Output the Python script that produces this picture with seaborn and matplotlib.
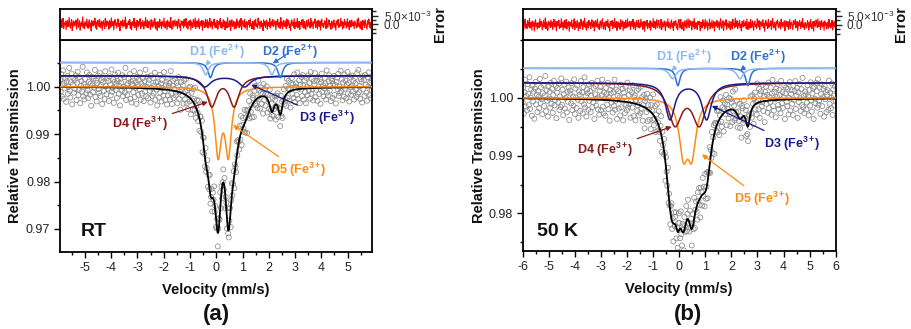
import numpy as np
import matplotlib
matplotlib.use('Agg')
import matplotlib.pyplot as plt
from matplotlib.ticker import MultipleLocator, FixedLocator, FixedFormatter, FormatStrFormatter
import seaborn as sns

sns.set_theme(style='ticks')
plt.rcParams['font.family'] = ['Liberation Sans', 'DejaVu Sans']
plt.rcParams['mathtext.fontset'] = 'custom'
plt.rcParams['mathtext.rm'] = 'Liberation Sans'
plt.rcParams['mathtext.bf'] = 'Liberation Sans:bold'
plt.rcParams['axes.unicode_minus'] = False

# --------------------------
# Residuals (data - fit), one value per channel, in units of res_unit
# --------------------------
res_unit = 1.3e-4
res_a = [12, -8, 21, -15, 3, 27, -19, 6, -2, 14, -24, 9, 18, -11, 0, 31,
         -6, -17, 8, 22, -28, 4, 15, -9, 11, -3, 19, -21, 7, 25, -13, -4,
         16, -26, 2, 10, -7, 33, -15, 5, -20, 13, 1, -10, 24, -5, -18, 9,
         20, -12, 6, -30, 17, 3, -8, 14, -1, 28, -16, 11, -23, 7, 19, -3,
         -9, 23, -14, 4, 12, -27, 8, 16, -6, -19, 26, 2, -11, 15, -2, 10,
         -22, 18, 5, -13, 29, -7, -1, 13, -25, 9, 21, -4, 6, -17, 11, 24,
         -10, 3, -29, 14, 8, -5, 20, -14, 1, 17, -8, 32, -20, 4, -12, 7,
         15, -3, 22, -18, 10, -24, 6, 12, -7, 27, -15, 0, 9, -26, 18, 5,
         -11, 13, -2, 25, -19, 7, -9, 16, 3, -21, 11, -6, 30, -13, 2, 19,
         -16, 8, 14, -4, -23, 21, 1, -12, 17, -8, 5, 26, -18, 10, -1, -27,
         12, 4, -14, 23, -6, 9, -20, 15, 2, -10, 28, -3, -17, 7, 13, -24,
         18, -9, 6, 11, -15, 31, -5, -22, 8, 16, -12, 3, 20, -7, -2, 14,
         -19, 10, 24, -11, 1, -28, 17, 6, -4, 13, -16, 22, -8, 5, 26, -13,
         9, -21, 3, 15, -6, 19, -25, 11, 0, -14, 21, 7, -10, 29, -18, 4,
         16, -2, -12, 25, -20, 8, 12, -7, 18, -26, 6, 14, -3, -15, 23, -9,
         2, 20, -17, 10, -5, 27, -13, 1, 15, -22, 9, -1, 24, -11, 7, -16,
         -7, 18, -22, 5, 13, -3, 26, -14, 9, -19, 2, 21, -10, 15, -25, 6,
         11, -16, 29, -5, -12, 8, 17, -27, 4, 20, -9, 1, 14, -21, 10, -2,
         -18, 24, -6, 12, 3, -15, 19, -8, 27, -23, 7, 16, -4, -11, 22, -17,
         5, 13, -26, 9, -1, 18, -13, 25, -7, 2, -20, 14, 8, -24, 17, -5,
         23, -10, 1, -16, 28, -3, 11, -19, 6, 15, -12, 4, -28, 20, -6, 12,
         -14, 7, 19, -22, 10, 3, -9, 26, -17, 0, 13, -5, 21, -11, -3, 16,
         8, -25, 14, -2, 22, -13, 5, 9, -18, 30, -7, 11, -21, 3, 17, -10,
         -4, 15, -19, 24, -8, 6, 18, -15, 2, -27, 12, 20, -6, 9, -13, 25,
         -20, 4, 10, -9, 27, -16, 1, 14, -23, 7, -1, 19, -12, 22, 5, -18,
         13, -6, -24, 17, 3, -11, 21, -4, 8, -17, 26, -9, 15, -2, -20, 11,
         6, 24, -15, -3, 12, -21, 18, 2, -10, 14, -26, 9, 23, -7, 4, -14,
         -1, 16, 7, -19, 28, -8, -13, 10, 20, -5, 3, -22, 15, 11, -17, 6,
         19, -12, 4, -26, 9, 16, -3, 22, -14, 1, -9, 27, -6, 13, -21, 8,
         -15, 21, -2, 11, -18, 5, 25, -10, 7, -23, 17, 0, -12, 19, 3, -7,
         10, -20, 15, 6, -4, -16, 23, -11, 28, -8, 2, -19, 13, 9, -25, 18,
         -3, 12, -14, 20, 4, -9, -22, 16, 1, 24, -13, 7, -18, 11, -5, 14]

res_b = [-5, 14, -20, 8, 25, -11, 3, -16, 19, 6, -9, 28, -14, 1, 12, -23,
         17, -4, 9, -27, 13, 22, -8, 5, -18, 10, 2, -13, 26, -6, 15, -1,
         -21, 7, 18, -10, 4, 30, -17, 11, -3, -24, 16, 0, 9, -12, 21, -7,
         13, -19, 5, 24, -9, -2, 17, -26, 8, 14, -5, 20, -15, 3, -11, 27,
         -8, 12, -22, 6, 19, -13, 1, 23, -18, 9, -4, 15, -28, 11, 7, -6,
         21, -15, 3, -9, 26, -20, 14, 2, -12, 18, -1, -25, 10, 6, -16, 24,
         -3, 9, -19, 16, -7, 29, -11, 4, -23, 13, 8, -14, 20, -2, 11, -17,
         5, 22, -10, -4, 15, -26, 7, 18, -8, 1, 25, -13, 3, -20, 12, 17,
         -14, 6, 27, -9, -18, 10, 2, -21, 16, 8, -6, 23, -12, 4, -27, 14,
         9, -3, 19, -16, 11, -7, 28, -12, 0, 15, -24, 7, 13, -10, 5, -19,
         22, -8, 1, 17, -25, 12, 6, -15, 20, -4, -11, 26, -7, 10, -2, 16,
         -20, 3, 14, -6, 24, -17, 8, 11, -22, 5, 18, -9, -1, 21, -14, 7,
         -10, 25, -4, 12, -19, 2, 16, -28, 9, 13, -5, 20, -16, 6, 1, -12,
         18, -23, 10, 4, -8, 27, -13, -3, 15, -18, 7, 22, -11, 2, 19, -6,
         -15, 8, 24, -20, 11, -2, -9, 17, 5, -25, 14, 3, -7, 26, -12, 9,
         1, -17, 13, 21, -10, 6, -24, 15, -3, 10, 18, -14, 4, -21, 12, 23,
         8, -13, 23, -6, -19, 11, 4, -25, 17, 2, -10, 21, -15, 7, 26, -4,
         -12, 19, -1, 13, -22, 6, 15, -9, 28, -17, 3, 10, -7, -20, 14, 1,
         16, -8, -26, 12, 5, -14, 22, -3, 9, -18, 24, -11, 2, 17, -23, 6,
         -2, 25, -16, 8, -9, 20, -13, 3, 15, -27, 11, 7, -5, 19, -12, -1,
         13, -21, 4, 27, -7, -15, 10, 18, -24, 5, 12, -3, 22, -19, 8, 2,
         -11, 16, -6, -22, 14, 9, -17, 24, -2, 6, -13, 29, -8, 1, 18, -16,
         7, -4, 20, -12, 3, -26, 15, 11, -9, 21, -5, 0, 13, -18, 25, -10,
         -20, 12, 6, -14, 23, -3, -11, 17, 4, -24, 9, 16, -7, 2, -15, 26,
         3, -9, 18, -21, 10, 14, -6, -1, 22, -13, 7, -28, 12, 19, -4, 8,
         -16, 24, -10, 5, -2, 17, -19, 9, 27, -8, -14, 11, 1, -23, 15, 4,
         21, -7, -12, 13, 6, -18, 25, -5, 10, -11, 3, 19, -26, 8, 16, -3,
         -9, 14, -20, 2, 23, -15, 7, 12, -6, -21, 18, -1, 11, 24, -13, 5,
         15, -25, 9, -4, 20, 1, -16, 13, -8, 28, -11, 4, -19, 10, 6, -14,
         -5, 18, 3, -22, 12, -9, 22, -2, -17, 7, 14, -27, 16, 0, -6, 21,
         10, -12, 26, -8, -3, 15, -20, 6, 19, -10, 2, 13, -24, 17, -1, 9,
         -18, 5, 11, -15, 24, -7, 8, -13, 1, 20, -22, 12, 4, -9, 16, -4]

# --------------------------
# Doublet components
# --------------------------
comp_labels = [r'D1 (Fe$^{\mathbf{2+}}\!$)', r'D2 (Fe$^{\mathbf{2+}}\!$)', r'D3 (Fe$^{\mathbf{3+}}\!$)',
               r'D4 (Fe$^{\mathbf{3+}}\!$)', r'D5 (Fe$^{\mathbf{3+}}\!$)']
comp_colors = ['#8DB8F0', '#2F72D2', '#1B1B8E', '#8B1A1A', '#FF8A14']

# RT: line positions (mm/s), depth, FWHM (mm/s), baseline of each drawn component
lines_a = [(-0.40, 2.12), (-0.22, 2.44), (-0.44, 1.08), (-0.17, 0.68), (0.07, 0.46)]
depth_a = [0.0026, 0.0032, 0.0023, 0.0062, 0.0137]
fwhm_a = [0.24, 0.22, 0.55, 0.45, 0.29]
base_a = [1.0051, 1.0051, 1.0023, 1.0023, 1.0000]
scale_a = 1.52

# 50 K
lines_b = [(-0.25, 2.33), (-0.05, 2.63), (-0.35, 1.05), (-0.16, 0.77), (0.16, 0.48)]
depth_b = [0.0018, 0.0030, 0.0063, 0.0069, 0.0089]
fwhm_b = [0.30, 0.20, 0.43, 0.64, 0.39]
base_b = [1.0051, 1.0051, 1.0026, 1.0026, 1.0000]
scale_b = 1.27

# annotation text / arrow tip positions (velocity, transmission)
ann_text_a = [(0.02, 1.0073), (2.81, 1.0073), (4.22, 0.9934), (-2.91, 0.9921), (3.10, 0.9825)]
ann_tip_a = [(-0.41, 1.0044), (2.15, 1.0049), (1.33, 1.0004), (-0.32, 0.9968), (0.64, 0.9919)]
ann_text_b = [(0.18, 1.0070), (3.02, 1.0070), (4.31, 0.9921), (-2.85, 0.9910), (3.16, 0.9825)]
ann_tip_b = [(-0.29, 1.0046), (2.33, 1.0047), (1.25, 0.9986), (-0.29, 0.9950), (0.87, 0.9902)]


def doublet(v, lines, depth, fwhm):
    h = (fwhm / 2) ** 2
    return sum(depth * h / ((v - c) ** 2 + h) for c in lines)


def total(v, lines, depth, fwhm, scale):
    return 1 - scale * sum(doublet(v, l, d, w) for l, d, w in zip(lines, depth, fwhm))


fig = plt.figure(figsize=(9.12, 3.29), dpi=100)


def draw_panel(left, width, bottom, height, xlim, ylim, elim, res, lines, depth, fwhm, base, scale,
               ann_text, ann_tip, yticks, xticks, tag, letter, letter_x, ylab_x):
    ax = fig.add_axes([left, bottom, width, height])
    ax_e = fig.add_axes([left, 1 - 40 / 329, width, 31 / 329])

    v = np.linspace(xlim[0], xlim[1], len(res))
    r = np.array(res) * res_unit
    y = total(v, lines, depth, fwhm, scale) + r
    vf = np.linspace(xlim[0], xlim[1], 1500)

    # data points
    sns.scatterplot(x=v, y=y, ax=ax, marker='o', s=13, facecolor='none', edgecolor='#8a8a8a',
                    linewidth=0.55, zorder=1)
    # total fit
    sns.lineplot(x=vf, y=total(vf, lines, depth, fwhm, scale), ax=ax, color='black', linewidth=1.3,
                 estimator=None, sort=False, zorder=2)
    # components, D5 at the back
    for i in [4, 3, 2, 1, 0]:
        sns.lineplot(x=vf, y=base[i] - doublet(vf, lines[i], depth[i], fwhm[i]), ax=ax,
                     color=comp_colors[i], linewidth=1.1, estimator=None, sort=False, zorder=3 + (4 - i))
        ax.annotate(comp_labels[i], xy=ann_tip[i], xytext=ann_text[i], ha='center', va='center',
                    color=comp_colors[i], fontsize=9, fontweight='bold',
                    arrowprops=dict(arrowstyle='-|>', color=comp_colors[i], lw=0.9,
                                    mutation_scale=7, shrinkA=1, shrinkB=0))

    ax.set_xlim(xlim)
    ax.set_ylim(ylim)
    ax.xaxis.set_major_locator(FixedLocator(xticks))
    ax.xaxis.set_minor_locator(MultipleLocator(0.5))
    ax.yaxis.set_major_locator(FixedLocator(yticks))
    ax.yaxis.set_minor_locator(MultipleLocator(0.005))
    ax.yaxis.set_major_formatter(FormatStrFormatter('%.2f'))
    ax.xaxis.set_major_formatter(FormatStrFormatter('%d'))
    ax.tick_params(which='major', direction='out', length=4, width=1, labelsize=9, color='black',
                   labelcolor='#222222', pad=3)
    ax.tick_params(which='minor', direction='out', length=2.5, width=1, color='black')
    ax.set_xlabel('Velocity (mm/s)', fontsize=10.5, fontweight='bold', color='#111111')
    ax.xaxis.set_label_coords(0.5, -0.145)
    ax.set_ylabel('Relative Transmission', fontsize=10.5, fontweight='bold', color='#111111')
    ax.yaxis.set_label_coords(ylab_x, 0.5)
    for s in ax.spines.values():
        s.set_color('black')
        s.set_linewidth(1.3)
    ax.text(tag[1], tag[2], tag[0], transform=ax.transAxes, fontsize=14, fontweight='bold',
            ha='left', va='center', color='#111111')

    # residual panel
    sns.lineplot(x=v, y=r, ax=ax_e, color='#FF0000', linewidth=0.8, estimator=None, sort=False)
    ax_e.set_xlim(xlim)
    ax_e.set_ylim(elim)
    ax_e.set_xticks([])
    ax_e.yaxis.tick_right()
    ax_e.yaxis.set_major_locator(FixedLocator([0, 0.005]))
    ax_e.yaxis.set_major_formatter(FixedFormatter(['0.0', r'5.0×10$^{-3}$']))
    ax_e.yaxis.set_minor_locator(FixedLocator([-0.005, -0.0025, 0.0025, 0.0075]))
    ax_e.tick_params(axis='y', which='major', direction='out', length=4, width=1, labelsize=8.5,
                     labelcolor='#333333', pad=4)
    ax_e.tick_params(axis='y', which='minor', direction='out', length=3, width=1)
    ax_e.set_ylabel('')
    ax_e.set_xlabel('')
    for s in ax_e.spines.values():
        s.set_color('black')
        s.set_linewidth(1.3)

    fig.text(letter_x, 0.045, letter, fontsize=16, fontweight='bold', ha='center', va='center',
             color='#111111')
    return ax, ax_e


draw_panel(60 / 912, 312.5 / 912, 1 - 252 / 329, 212 / 329, (-5.95, 5.95), (0.96515, 1.00985),
           (-0.0091, 0.0089), res_a, lines_a, depth_a, fwhm_a, base_a, scale_a, ann_text_a, ann_tip_a,
           [0.97, 0.98, 0.99, 1.00], list(range(-5, 6)), ('RT', 0.067, 0.096), '(a)', 216 / 912, -0.122)
draw_panel(522.7 / 912, 313 / 912, 1 - 251 / 329, 211 / 329, (-6, 6), (0.9735, 1.0100),
           (-0.0085, 0.0089), res_b, lines_b, depth_b, fwhm_b, base_b, scale_b, ann_text_b, ann_tip_b,
           [0.98, 0.99, 1.00], list(range(-6, 7)), ('50 K', 0.046, 0.091), '(b)', 688 / 912, -0.117)

fig.text(440 / 912, 1 - 24 / 329, 'Error', rotation=90, fontsize=10.5, fontweight='bold',
         ha='center', va='center', color='#111111')
fig.text(901 / 912, 1 - 24 / 329, 'Error', rotation=90, fontsize=10.5, fontweight='bold',
         ha='center', va='center', color='#111111')

fig.savefig('out.png', dpi=100)
